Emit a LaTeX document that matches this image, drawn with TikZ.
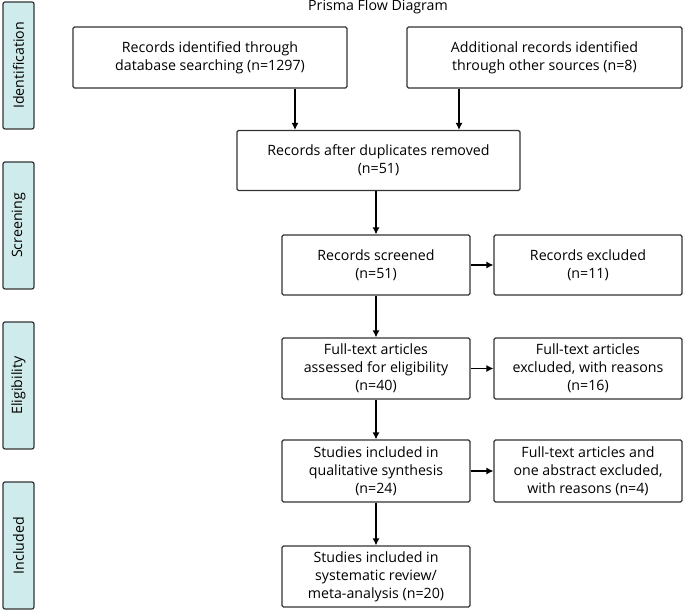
\documentclass[tikz,border=0pt]{standalone}
\usepackage{fontspec}
\setmainfont{Open Sans}
\usetikzlibrary{arrows.meta}
\definecolor{stagefill}{HTML}{CFEBEB}
\definecolor{linegray}{HTML}{333333}

\begin{document}
\begin{tikzpicture}[x=1pt,y=-1pt]
\tikzstyle{every node}+=[inner sep=0pt, font=\fontsize{14.2}{18}\selectfont]
\tikzstyle{flowbox}=[draw=linegray, line width=1.2pt, rounded corners=1.5pt, align=center]
\tikzstyle{stage}=[draw=linegray, fill=stagefill, line width=1.2pt, rounded corners=2pt, minimum height=31pt, minimum width=127pt, rotate=90]
\tikzstyle{flow}=[draw=black, line width=1.2pt, -{Latex[length=7pt,width=7pt]}]
\useasboundingbox (0,0) rectangle (685,612);
\node (title) at (378,7) {Prisma Flow Diagram};
% stage labels
\node [stage] (ident) at (18.5,65.5) {Identification};
\node [stage] (screen) at (18.5,225.5) {Screening};
\node [stage] (elig) at (18.5,385.5) {Eligibility};
\node [stage] (incl) at (18.5,545.5) {Included};
% boxes
\node [flowbox, minimum width=274pt, minimum height=61pt] (dbsearch) at (210,57.5) {Records identified through\\database searching (n=1297)};
\node [flowbox, minimum width=275pt, minimum height=61pt] (other) at (544.5,57.5) {Additional records identified\\through other sources (n=8)};
\node [flowbox, minimum width=283pt, minimum height=60pt] (dupl) at (378.5,160.5) {Records after duplicates removed\\(n=51)};
\node [flowbox, minimum width=188pt, minimum height=60pt] (screened) at (376,265) {Records screened\\(n=51)};
\node [flowbox, minimum width=188pt, minimum height=60pt] (excl) at (588,265) {Records excluded\\(n=11)};
\node [flowbox, minimum width=188pt, minimum height=61pt] (fulltext) at (376,368.5) {Full-text articles\\assessed for eligibility\\(n=40)};
\node [flowbox, minimum width=188pt, minimum height=61pt] (ftexcl) at (588,368.5) {Full-text articles\\excluded, with reasons\\(n=16)};
\node [flowbox, minimum width=188pt, minimum height=62pt] (qual) at (376,471) {Studies included in\\qualitative synthesis\\(n=24)};
\node [flowbox, minimum width=188pt, minimum height=62pt] (abstr) at (588,471) {Full-text articles and\\one abstract excluded,\\with reasons (n=4)};
\node [flowbox, minimum width=188pt, minimum height=61pt] (review) at (376,576.5) {Studies included in\\systematic review/\\meta-analysis (n=20)};
% connectors
\draw [flow] (dbsearch.south -| 295,0) -- (dupl.north -| 295,0);
\draw [flow] (other.south -| 459,0) -- (dupl.north -| 459,0);
\draw [flow] (dupl.south -| screened) -- (screened.north);
\draw [flow] (screened) -- (excl);
\draw [flow] (screened.south) -- (fulltext.north);
\draw [flow] (fulltext) -- (ftexcl);
\draw [flow] (fulltext.south) -- (qual.north);
\draw [flow] (qual) -- (abstr);
\draw [flow] (qual.south) -- (review.north);
\end{tikzpicture}
\end{document}
